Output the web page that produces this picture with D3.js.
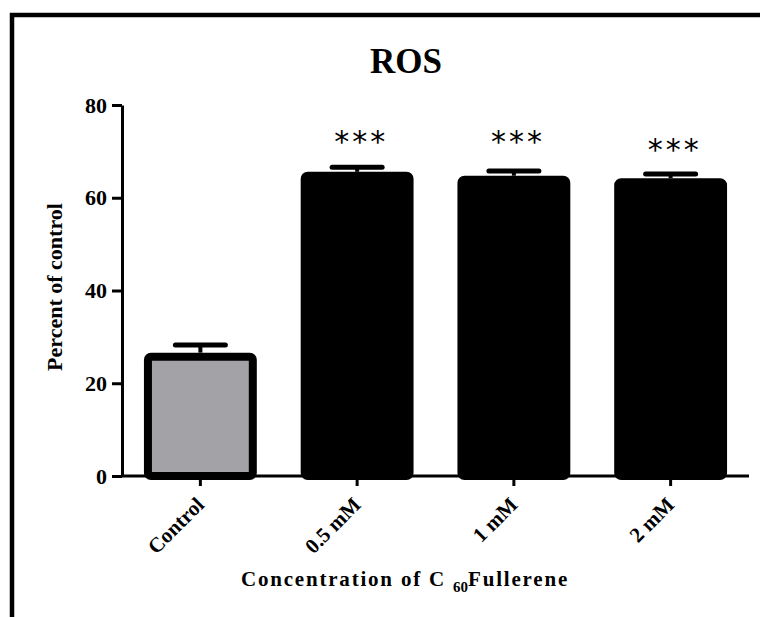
<!DOCTYPE html>
<html>
<head>
<meta charset="utf-8">
<script src="https://cdn.jsdelivr.net/npm/d3@7"></script>
<style>
    body { margin: 0; background: #fff; }
    svg { display: block; }
    .axis path, .axis line { stroke: #000; stroke-width: 3; }
    .axis text { font-family: "Liberation Serif", "Times New Roman", serif; font-weight: bold; fill: #000; }
</style>
</head>
<body>
<div class="module-graph"></div>
<script>
"use strict"

const width = 760,
    height = 617;

const categories = ["Control", "0.5 mM", "1 mM", "2 mM"];
const means = [26.6, 65.6, 64.75, 64.2];
const sem = [1.65, 1.0, 1.0, 0.9];
const stars = ["", "***", "***", "***"];
const starLevel = [0, 73.5, 73.6, 71.8];
const yTicks = [0, 20, 40, 60, 80];
const fills = ["#a3a2a7", "#000", "#000", "#000"];

const plotLeft = 122, plotRight = 749, plotTop = 105, plotBottom = 476;

const svg = d3.select("div.module-graph").append("svg")
    .attr("width", width)
    .attr("height", height);

// frame
svg.append("rect")
    .attr("x", 12)
    .attr("y", 15)
    .attr("width", 820)
    .attr("height", 700)
    .attr("fill", "none")
    .attr("stroke", "#000")
    .attr("stroke-width", 4.5);

const scaleX = d3.scaleBand()
    .domain(categories)
    .range([plotLeft, plotRight])
    .paddingInner(0.28)
    .paddingOuter(0.14);

const scaleY = d3.scaleLinear()
    .domain([0, 80])
    .range([plotBottom, plotTop]);

const data = categories.map((c, i) => ({ c: c, m: means[i], e: sem[i], s: stars[i], sl: starLevel[i], f: fills[i] }));
const bw = scaleX.bandwidth();
const sw = 8;

// bars
svg.selectAll("rect.bar")
    .data(data)
    .enter().append("rect")
    .attr("class", "bar")
    .attr("x", d => scaleX(d.c) + sw / 2)
    .attr("y", d => scaleY(d.m) + sw / 2)
    .attr("width", bw - sw)
    .attr("height", d => scaleY(0) - scaleY(d.m) - sw / 2)
    .attr("rx", 3)
    .attr("fill", d => d.f)
    .attr("stroke", "#000")
    .attr("stroke-width", sw);

// error bars
svg.selectAll("line.stem")
    .data(data)
    .enter().append("line")
    .attr("x1", d => scaleX(d.c) + bw / 2)
    .attr("x2", d => scaleX(d.c) + bw / 2)
    .attr("y1", d => scaleY(d.m))
    .attr("y2", d => scaleY(d.m + d.e))
    .attr("stroke", "#000")
    .attr("stroke-width", 4);

svg.selectAll("line.cap")
    .data(data)
    .enter().append("line")
    .attr("x1", d => scaleX(d.c) + bw / 2 - 25)
    .attr("x2", d => scaleX(d.c) + bw / 2 + 25)
    .attr("y1", d => scaleY(d.m + d.e))
    .attr("y2", d => scaleY(d.m + d.e))
    .attr("stroke", "#000")
    .attr("stroke-width", 5)
    .attr("stroke-linecap", "round");

svg.selectAll("text.star")
    .data(data.filter(d => d.s))
    .enter().append("text")
    .attr("x", d => scaleX(d.c) + bw / 2 + 4)
    .attr("y", d => scaleY(d.sl) + 17)
    .attr("text-anchor", "middle")
    .attr("font-family", "DejaVu Sans, sans-serif")
    .attr("font-size", 30)
    .attr("letter-spacing", 3)
    .text(d => d.s);

const yAxis = d3.axisLeft(scaleY)
    .tickValues(yTicks)
    .tickSize(10)
    .tickSizeOuter(0)
    .tickPadding(5);

svg.append("g")
    .attr("class", "axis")
    .attr("transform", "translate(" + plotLeft + ",0)")
    .call(yAxis)
    .selectAll("text")
    .attr("font-size", 22);

const xAxis = d3.axisBottom(scaleX)
    .tickSize(10)
    .tickSizeOuter(0);

const gx = svg.append("g")
    .attr("class", "axis")
    .attr("transform", "translate(0," + plotBottom + ")")
    .call(xAxis);
gx.select("path.domain").attr("d", "M" + plotLeft + ",0H" + plotRight);
gx.selectAll("text")
    .attr("font-size", 21)
    .attr("text-anchor", "end")
    .attr("x", 0)
    .attr("y", 0)
    .attr("dy", 0)
    .attr("transform", "translate(5,30) rotate(-45)");

// titles
svg.append("text")
    .attr("x", 406)
    .attr("y", 73)
    .attr("text-anchor", "middle")
    .attr("font-family", "Liberation Serif, Times New Roman, serif")
    .attr("font-weight", "bold")
    .attr("font-size", 35)
    .text("ROS");

svg.append("text")
    .attr("transform", "translate(62,287) rotate(-90)")
    .attr("text-anchor", "middle")
    .attr("font-family", "Liberation Serif, Times New Roman, serif")
    .attr("font-weight", "bold")
    .attr("font-size", 22)
    .text("Percent of control");

const xt = svg.append("text")
    .attr("x", 405)
    .attr("y", 586)
    .attr("text-anchor", "middle")
    .attr("font-family", "Liberation Serif, Times New Roman, serif")
    .attr("font-weight", "bold")
    .attr("font-size", 21)
    .attr("letter-spacing", 1.8);
xt.append("tspan").text("Concentration of C ");
xt.append("tspan").attr("font-size", 15).attr("dy", 6).attr("letter-spacing", 0).text("60");
xt.append("tspan").attr("dy", -6).text("Fullerene");
</script>
</body>
</html>
